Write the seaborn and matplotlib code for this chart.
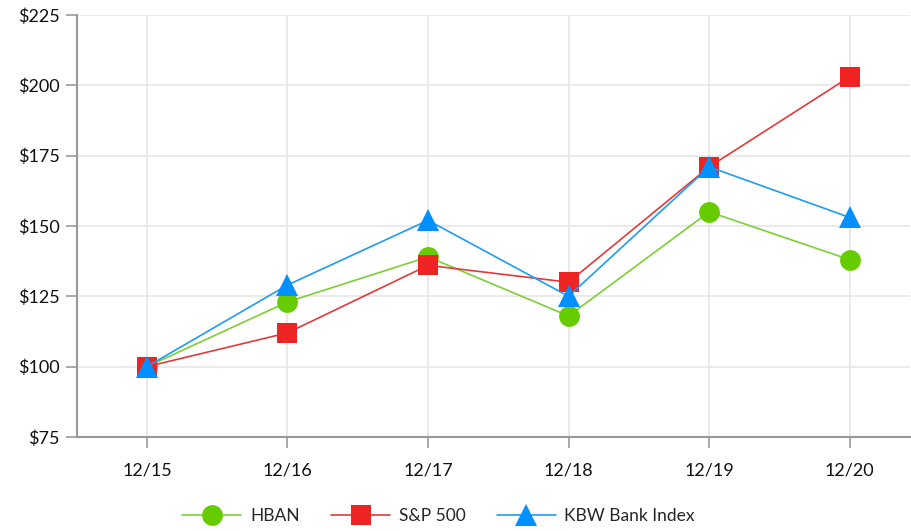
import pandas as pd
import numpy as np
import matplotlib
matplotlib.use('Agg')
import matplotlib.pyplot as plt
import seaborn as sns

# ---- data ----
years = ['12/15', '12/16', '12/17', '12/18', '12/19', '12/20']
hban = [100, 123, 139, 118, 155, 138]
sp500 = [100, 112, 136, 130, 171, 203]
kbw = [100, 129, 152, 125, 171, 153]
series_names = ['HBAN', 'S&P 500', 'KBW Bank Index']
y_ticks = [75, 100, 125, 150, 175, 200, 225]

df = pd.DataFrame({
    'year': years * 3,
    'pos': list(range(len(years))) * 3,
    'value': hban + sp500 + kbw,
    'series': [series_names[0]] * 6 + [series_names[1]] * 6 + [series_names[2]] * 6,
})

sns.set_theme(style='white')
plt.rcParams['font.family'] = ['Lato', 'DejaVu Sans']

line_colors = {'HBAN': '#7ccf35', 'S&P 500': '#e23a3a', 'KBW Bank Index': '#1e9cf0'}
marker_colors = {'HBAN': '#66cc00', 'S&P 500': '#ee2424', 'KBW Bank Index': '#0090ff'}
markers = {'HBAN': 'o', 'S&P 500': 's', 'KBW Bank Index': '^'}
msize = {'HBAN': 15, 'S&P 500': 15, 'KBW Bank Index': 16}

fig = plt.figure(figsize=(9.12, 5.31), dpi=100)
ax = fig.add_axes([0.084, 0.177, 0.914, 0.795])

for name in series_names:
    sub = df[df['series'] == name]
    sns.lineplot(data=sub, x='pos', y='value', ax=ax, color=line_colors[name],
                 linewidth=1.2, marker=markers[name], markersize=msize[name],
                 markerfacecolor=marker_colors[name], markeredgecolor=marker_colors[name],
                 markeredgewidth=0, label=name, legend=False)

ax.set_xlim(-0.5, 5.43)
ax.set_ylim(75, 225)
ax.set_xticks(range(len(years)))
ax.set_xticklabels(years)
ax.set_yticks(y_ticks)
ax.set_yticklabels([f'${v}' for v in y_ticks])
ax.set_xlabel('')
ax.set_ylabel('')
ax.grid(True, color='#e6e6e6', linewidth=1.2)
ax.set_axisbelow(True)
for s in ['top', 'right']:
    ax.spines[s].set_visible(False)
for s in ['left', 'bottom']:
    ax.spines[s].set_color('#999999')
    ax.spines[s].set_linewidth(1.5)
ax.tick_params(axis='both', which='both', length=8, width=1.2, color='#999999',
               labelsize=13, labelcolor='#111111', direction='out', bottom=True, left=True)
ax.tick_params(axis='x', pad=10)
ax.tick_params(axis='y', pad=4)

handles, labels = ax.get_legend_handles_labels()
fig.legend(handles, labels, loc='center', bbox_to_anchor=(0.481, 0.028), ncol=3,
           frameon=False, fontsize=12.5, handlelength=3.4, columnspacing=1.8,
           handletextpad=0.5)

fig.savefig('out.png', dpi=100)
